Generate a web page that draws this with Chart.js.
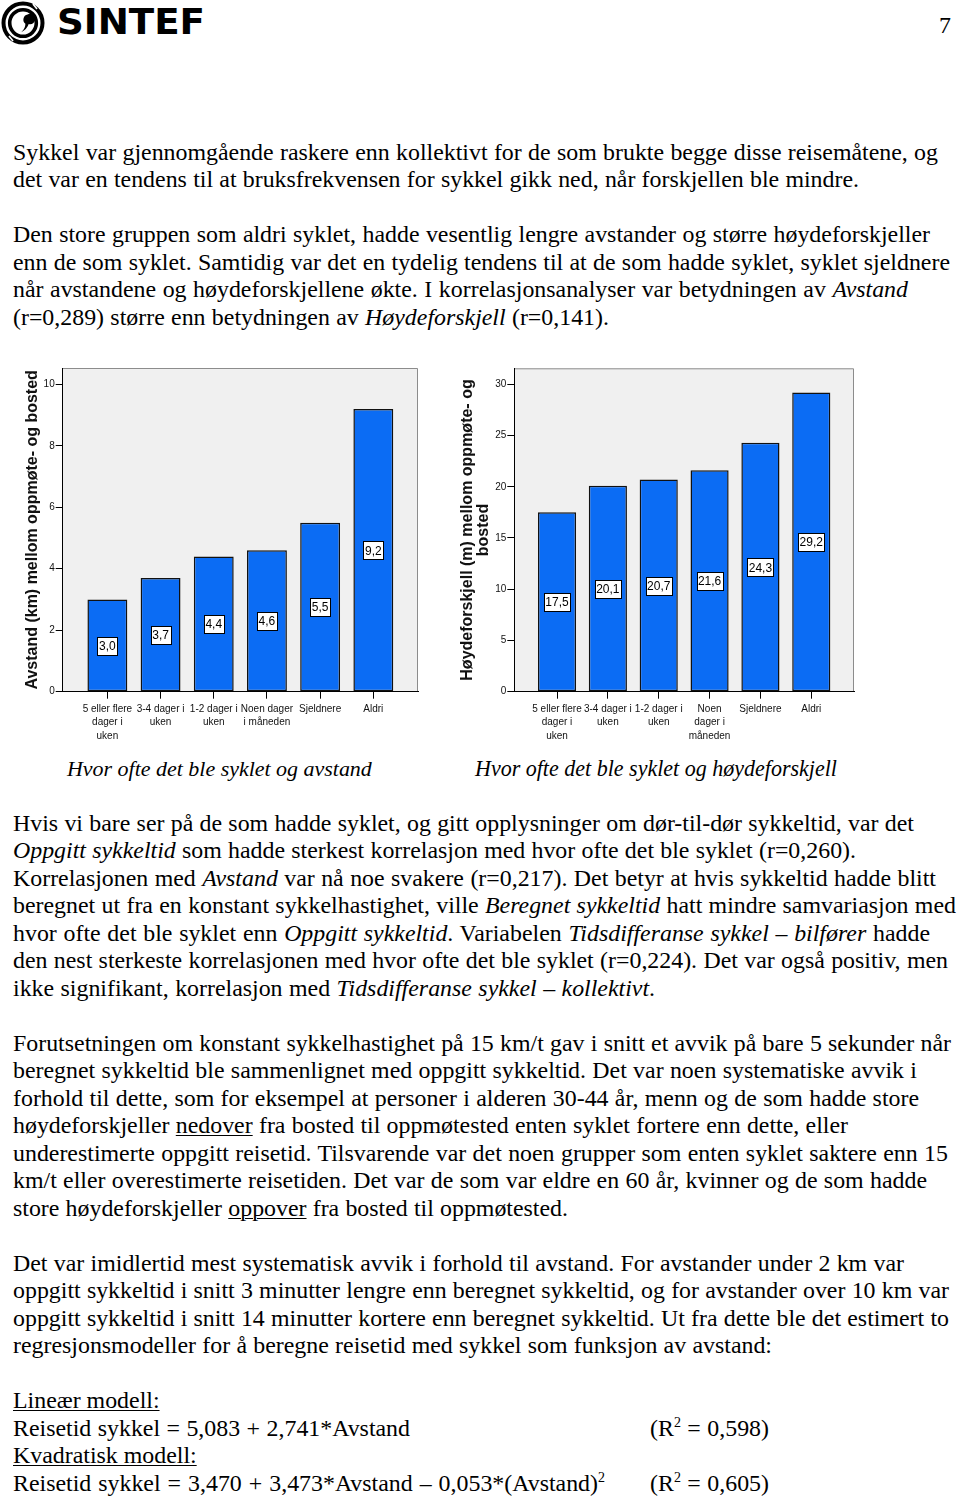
<!DOCTYPE html>
<html>
<head>
<meta charset="utf-8">
<script src="https://cdn.jsdelivr.net/npm/chart.js@4.4.1/dist/chart.umd.min.js"></script>
<style>
  html,body{margin:0;padding:0;background:#fff;}
  body{width:960px;height:1501px;position:relative;overflow:hidden;font-family:'Liberation Serif','Times New Roman',serif;color:#000;}
  .ln{position:absolute;left:13px;white-space:nowrap;font-size:23px;line-height:28px;height:28px;}
  .u{text-decoration:underline;text-underline-offset:2px;text-decoration-thickness:1px;}
  sup{font-size:14px;line-height:0;vertical-align:9px;}
  .cap{font-style:italic;}
  canvas{position:absolute;}
  #logoText{position:absolute;left:57px;top:5px;font-family:'DejaVu Sans',sans-serif;font-weight:bold;font-size:35px;line-height:34px;white-space:nowrap;transform-origin:left top;}
</style>
</head>
<body>
<svg width="48" height="46" style="position:absolute;left:0;top:0">
  <circle cx="23" cy="23" r="19.5" fill="none" stroke="#000" stroke-width="4"/>
  <circle cx="23" cy="23" r="13.3" fill="none" stroke="#000" stroke-width="3.6"/>
  <path d="M27.5 14.5 a5.2 5.2 0 1 1 1.2 9.6 q-1.5 5 -7.5 8.2 q4.2 -3.8 4.2 -8.6 a5.2 5.2 0 0 1 2.1 -9.2z" fill="#000"/>
  <path d="M33 4 L37 9" stroke="#fff" stroke-width="1.6"/>
  <path d="M9 36 L13 41" stroke="#fff" stroke-width="1.6"/>
</svg>
<div id="logoText" data-sx="148">SINTEF</div>
<div class="ln" style="left:939px;top:11px">7</div>

<div class="ln body" style="top:137.5px" data-w="925">Sykkel var gjennomgående raskere enn kollektivt for de som brukte begge disse reisemåtene, og</div>
<div class="ln body" style="top:165px" data-w="846">det var en tendens til at bruksfrekvensen for sykkel gikk ned, når forskjellen ble mindre.</div>

<div class="ln body" style="top:220px" data-w="917">Den store gruppen som aldri syklet, hadde vesentlig lengre avstander og større høydeforskjeller</div>
<div class="ln body" style="top:247.5px" data-w="937">enn de som syklet. Samtidig var det en tydelig tendens til at de som hadde syklet, syklet sjeldnere</div>
<div class="ln body" style="top:275px" data-w="895">når avstandene og høydeforskjellene økte. I korrelasjonsanalyser var betydningen av <i>Avstand</i></div>
<div class="ln body" style="top:302.5px" data-w="596">(r=0,289) større enn betydningen av <i>Høydeforskjell</i> (r=0,141).</div>

<div class="ln cap" style="left:67px;top:755px" data-fit="305">Hvor ofte det ble syklet og avstand</div>
<div class="ln cap" style="left:475px;top:755px" data-fit="362">Hvor ofte det ble syklet og høydeforskjell</div>

<div class="ln body" style="top:808.5px" data-w="901">Hvis vi bare ser på de som hadde syklet, og gitt opplysninger om dør-til-dør sykkeltid, var det</div>
<div class="ln body" style="top:836px" data-w="843"><i>Oppgitt sykkeltid</i> som hadde sterkest korrelasjon med hvor ofte det ble syklet (r=0,260).</div>
<div class="ln body" style="top:863.5px" data-w="923">Korrelasjonen med <i>Avstand</i> var nå noe svakere (r=0,217). Det betyr at hvis sykkeltid hadde blitt</div>
<div class="ln body" style="top:891px" data-w="943">beregnet ut fra en konstant sykkelhastighet, ville <i>Beregnet sykkeltid</i> hatt mindre samvariasjon med</div>
<div class="ln body" style="top:918.5px" data-w="917">hvor ofte det ble syklet enn <i>Oppgitt sykkeltid</i>. Variabelen <i>Tidsdifferanse sykkel – bilfører</i> hadde</div>
<div class="ln body" style="top:946px" data-w="935">den nest sterkeste korrelasjonen med hvor ofte det ble syklet (r=0,224). Det var også positiv, men</div>
<div class="ln body" style="top:973.5px" data-w="642">ikke signifikant, korrelasjon med <i>Tidsdifferanse sykkel – kollektivt</i>.</div>

<div class="ln body" style="top:1028.5px" data-w="938">Forutsetningen om konstant sykkelhastighet på 15 km/t gav i snitt et avvik på bare 5 sekunder når</div>
<div class="ln body" style="top:1056px" data-w="904">beregnet sykkeltid ble sammenlignet med oppgitt sykkeltid. Det var noen systematiske avvik i</div>
<div class="ln body" style="top:1083.5px" data-w="906">forhold til dette, som for eksempel at personer i alderen 30-44 år, menn og de som hadde store</div>
<div class="ln body" style="top:1111px" data-w="835">høydeforskjeller <span class="u">nedover</span> fra bosted til oppmøtested enten syklet fortere enn dette, eller</div>
<div class="ln body" style="top:1138.5px" data-w="935">underestimerte oppgitt reisetid. Tilsvarende var det noen grupper som enten syklet saktere enn 15</div>
<div class="ln body" style="top:1166px" data-w="914">km/t eller overestimerte reisetiden. Det var de som var eldre en 60 år, kvinner og de som hadde</div>
<div class="ln body" style="top:1193.5px" data-w="555">store høydeforskjeller <span class="u">oppover</span> fra bosted til oppmøtested.</div>

<div class="ln body" style="top:1248.5px" data-w="891">Det var imidlertid mest systematisk avvik i forhold til avstand. For avstander under 2 km var</div>
<div class="ln body" style="top:1276px" data-w="936">oppgitt sykkeltid i snitt 3 minutter lengre enn beregnet sykkeltid, og for avstander over 10 km var</div>
<div class="ln body" style="top:1303.5px" data-w="936">oppgitt sykkeltid i snitt 14 minutter kortere enn beregnet sykkeltid. Ut fra dette ble det estimert to</div>
<div class="ln body" style="top:1331px" data-w="759">regresjonsmodeller for å beregne reisetid med sykkel som funksjon av avstand:</div>

<div class="ln body" style="top:1386px"><span class="u">Lineær modell:</span></div>
<div class="ln body" style="top:1413.5px" data-w="397">Reisetid sykkel = 5,083 + 2,741*Avstand</div>
<div class="ln body" style="left:650px;top:1413.5px" data-w="119">(R<sup>2</sup> = 0,598)</div>
<div class="ln body" style="top:1441px"><span class="u">Kvadratisk modell:</span></div>
<div class="ln body" style="top:1468.5px" data-w="592">Reisetid sykkel = 3,470 + 3,473*Avstand – 0,053*(Avstand)<sup>2</sup></div>
<div class="ln body" style="left:650px;top:1468.5px" data-w="119">(R<sup>2</sup> = 0,605)</div>

<canvas id="c1" width="410" height="390" style="left:20px;top:360px"></canvas>
<canvas id="c2" width="410" height="390" style="left:455px;top:360px"></canvas>

<script>
// ---------- DATA ----------
const categories1 = [["5 eller flere","dager i","uken"],["3-4 dager i","uken"],["1-2 dager i","uken"],["Noen dager","i måneden"],["Sjeldnere"],["Aldri"]];
const categories2 = [["5 eller flere","dager i","uken"],["3-4 dager i","uken"],["1-2 dager i","uken"],["Noen","dager i","måneden"],["Sjeldnere"],["Aldri"]];
const avstand = [3.0, 3.7, 4.4, 4.6, 5.5, 9.2];
const hoydeforskjell = [17.5, 20.1, 20.7, 21.6, 24.3, 29.2];
const yTicks1 = [0, 2, 4, 6, 8, 10];
const yTicks2 = [0, 5, 10, 15, 20, 25, 30];
const yTitle1 = "Avstand (km) mellom oppmøte- og bosted";
const yTitle2 = ["Høydeforskjell (m) mellom oppmøte- og", "bosted"];

// ---------- text fitting ----------
(function(){
  const lines = Array.from(document.querySelectorAll('.body[data-w]'));
  const ratios = lines.filter(el => +el.dataset.w > 800).map(el => +el.dataset.w / el.getBoundingClientRect().width).sort((a,b)=>a-b);
  const med = ratios[Math.floor(ratios.length / 2)];
  const fs = 23 * med * 0.995;
  document.querySelectorAll('.body').forEach(el => { el.style.fontSize = fs + 'px'; });
  lines.forEach(el => {
    const w = el.getBoundingClientRect().width;
    const n = (el.textContent.match(/ /g) || []).length;
    if (n > 0) el.style.wordSpacing = ((+el.dataset.w - w) / n) + 'px';
  });
  document.querySelectorAll('[data-fit]').forEach(el => {
    const w = el.getBoundingClientRect().width;
    el.style.fontSize = (23 * +el.dataset.fit / w) + 'px';
  });
  document.querySelector('.ln[style*="939px"]').style.fontSize = fs + 'px';
  const lt = document.getElementById('logoText');
  lt.style.transform = 'scaleX(' + (+lt.dataset.sx / lt.getBoundingClientRect().width) + ')';
})();

// ---------- charts ----------
const SANS = "'Liberation Sans',Arial,sans-serif";

const framePlugin = {
  id: 'frame',
  beforeDraw(chart) {
    const {ctx, chartArea: a} = chart;
    ctx.save();
    ctx.fillStyle = '#f0f0f0';
    ctx.fillRect(a.left, a.top, a.right - a.left, a.bottom - a.top);
    ctx.strokeStyle = '#8c8c8c';
    ctx.lineWidth = 1;
    ctx.beginPath();
    ctx.moveTo(a.left, a.top + 0.5);
    ctx.lineTo(a.right - 0.5, a.top + 0.5);
    ctx.lineTo(a.right - 0.5, a.bottom);
    ctx.stroke();
    ctx.restore();
  }
};

const labelPlugin = {
  id: 'boxLabels',
  afterDatasetsDraw(chart) {
    const {ctx} = chart;
    const yScale = chart.scales.y;
    const meta = chart.getDatasetMeta(0);
    const vals = chart.data.datasets[0].data;
    ctx.save();
    ctx.font = '12px ' + SANS;
    ctx.textAlign = 'center';
    ctx.textBaseline = 'middle';
    meta.data.forEach((bar, i) => {
      const v = vals[i].y;
      const txt = v.toFixed(1).replace('.', ',');
      const cx = bar.x;
      const cy = yScale.getPixelForValue(v / 2);
      const tw = ctx.measureText(txt).width;
      const bw = Math.round(tw + 3), bh = 18;
      const x0 = Math.round(cx - bw / 2) + 0.5, y0 = Math.round(cy - bh / 2) + 0.5;
      ctx.fillStyle = '#fff';
      ctx.fillRect(x0, y0, bw, bh);
      ctx.strokeStyle = '#000';
      ctx.lineWidth = 1;
      ctx.strokeRect(x0, y0, bw, bh);
      ctx.fillStyle = '#000';
      ctx.fillText(txt, cx, cy + 1);
    });
    ctx.restore();
  }
};

function makeChart(id, cats, values, yTicks, yMax, yTitle, yWidth, pad) {
  return new Chart(document.getElementById(id), {
    type: 'bar',
    data: {
      datasets: [{
        data: values.map((v, i) => ({x: i, y: v})),
        backgroundColor: '#0b6cf4',
        borderColor: '#111',
        borderWidth: 1.5,
        borderSkipped: false,
        barPercentage: 0.75,
        categoryPercentage: 1
      }]
    },
    options: {
      responsive: false,
      animation: false,
      devicePixelRatio: 1,
      layout: {padding: pad},
      plugins: {legend: {display: false}, tooltip: {enabled: false}},
      scales: {
        x: {
          type: 'linear',
          min: -0.84, max: cats.length - 1 + 0.84,
          offset: false,
          afterBuildTicks: s => { s.ticks = cats.map((c, i) => ({value: i})); },
          afterFit: s => { s.height = 58.3; },
          grid: {display: true, drawOnChartArea: false, drawTicks: true, tickLength: 7, color: '#000', offset: false},
          border: {display: true, color: '#000', width: 1},
          ticks: {
            autoSkip: false, maxRotation: 0, minRotation: 0, padding: 4,
            color: '#111',
            font: {family: SANS, size: 10, lineHeight: 1.33},
            callback: (v) => cats[v]
          }
        },
        y: {
          min: 0, max: yMax,
          afterBuildTicks: s => { s.ticks = yTicks.map(v => ({value: v})); },
          afterFit: s => { s.width = yWidth; },
          grid: {display: true, drawOnChartArea: false, drawTicks: true, tickLength: 7, color: '#000'},
          border: {display: true, color: '#000', width: 1},
          ticks: {
            padding: 1, color: '#111',
            font: {family: SANS, size: 10},
            callback: v => String(v)
          },
          title: {
            display: true, text: yTitle, color: '#111',
            font: {family: SANS, size: 16, weight: 'bold', lineHeight: 1},
            padding: {top: 5, bottom: 0}
          }
        }
      }
    },
    plugins: [framePlugin, labelPlugin]
  });
}

makeChart('c1', categories1, avstand, yTicks1, 10.53, yTitle1, 42.7, {top: 8, right: 12, left: 0, bottom: 0});
makeChart('c2', categories2, hoydeforskjell, yTicks2, 31.56, yTitle2, 59.3, {top: 8.3, right: 11, left: 0, bottom: 0});
</script>
</body>
</html>
